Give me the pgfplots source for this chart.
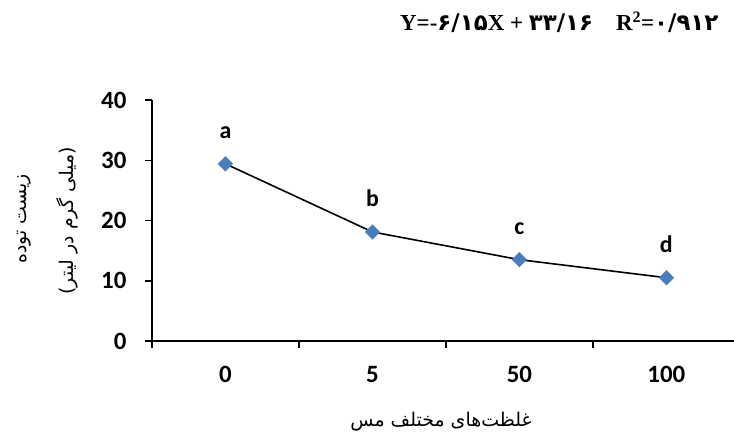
\documentclass[border=0pt]{standalone}
\usepackage{pgfplots}
\pgfplotsset{compat=1.18}
\usepackage{fontspec}
\setmainfont{Carlito}
\newfontfamily\arabicfont[Script=Arabic]{DejaVu Sans}
\newfontfamily\eqfont{Liberation Serif}
\newfontfamily\digfont{DejaVu Sans}
\TeXXeTstate=1
\definecolor{markblue}{HTML}{4A7EBB}

\begin{document}
\begin{tikzpicture}
\useasboundingbox (0,0) rectangle (734bp,441bp);
\begin{axis}[
  at={(152bp,100bp)}, anchor=south west,
  scale only axis, width=582bp, height=241bp,
  xmin=-0.5, xmax=3.46, ymin=0, ymax=40,
  axis x line=bottom, axis y line=left,
  axis line style={-, line width=1.6bp, black},
  xtick={-0.5,0.5,1.5,2.5}, xticklabels={},
  extra x ticks={0,1,2,3}, extra x tick labels={0,5,50,100},
  extra x tick style={major tick length=0pt,
    xticklabel style={yshift=-22bp}},
  ytick={0,10,20,30,40},
  tick align=outside, major tick length=7bp,
  tick style={line width=1.5bp, black},
  /pgf/number format/assume math mode=true,
  ticklabel style={font=\fontsize{25}{30}\selectfont\bfseries},
  yticklabel style={xshift=-15bp},
]
\addplot[black, line width=1.6bp, mark=square*, mark size=4.6bp,
  mark options={rotate=45, fill=markblue, draw=markblue},
  nodes near coords, point meta=explicit symbolic,
  every node near coord/.style={anchor=base, yshift=25.5bp,
    font=\fontsize{24}{28}\selectfont\bfseries, text=black}]
  coordinates {(0,29.4)[a] (1,18.1)[b] (2,13.5)[c] (3,10.5)[d]};
\end{axis}
\node[anchor=base east] at (722bp,410bp)
  {\eqfont\bfseries\fontsize{23}{28}\selectfont Y=-{\digfont ۶/۱۵}X + {\digfont ۳۳/۱۶}\hspace{1em}R\textsuperscript{2}={\digfont ۰/۹۱۲}};
\node[rotate=90] at (24bp,222bp)
  {\arabicfont\fontsize{19}{22}\selectfont\beginR زیست توده\endR};
\node[rotate=90] at (67bp,220bp)
  {\arabicfont\fontsize{19}{22}\selectfont\beginR (میلی گرم در لیتر)\endR};
\node at (441bp,19bp)
  {\arabicfont\fontsize{19}{22}\selectfont\beginR غلظت‌های مختلف مس\endR};
\end{tikzpicture}
\end{document}
